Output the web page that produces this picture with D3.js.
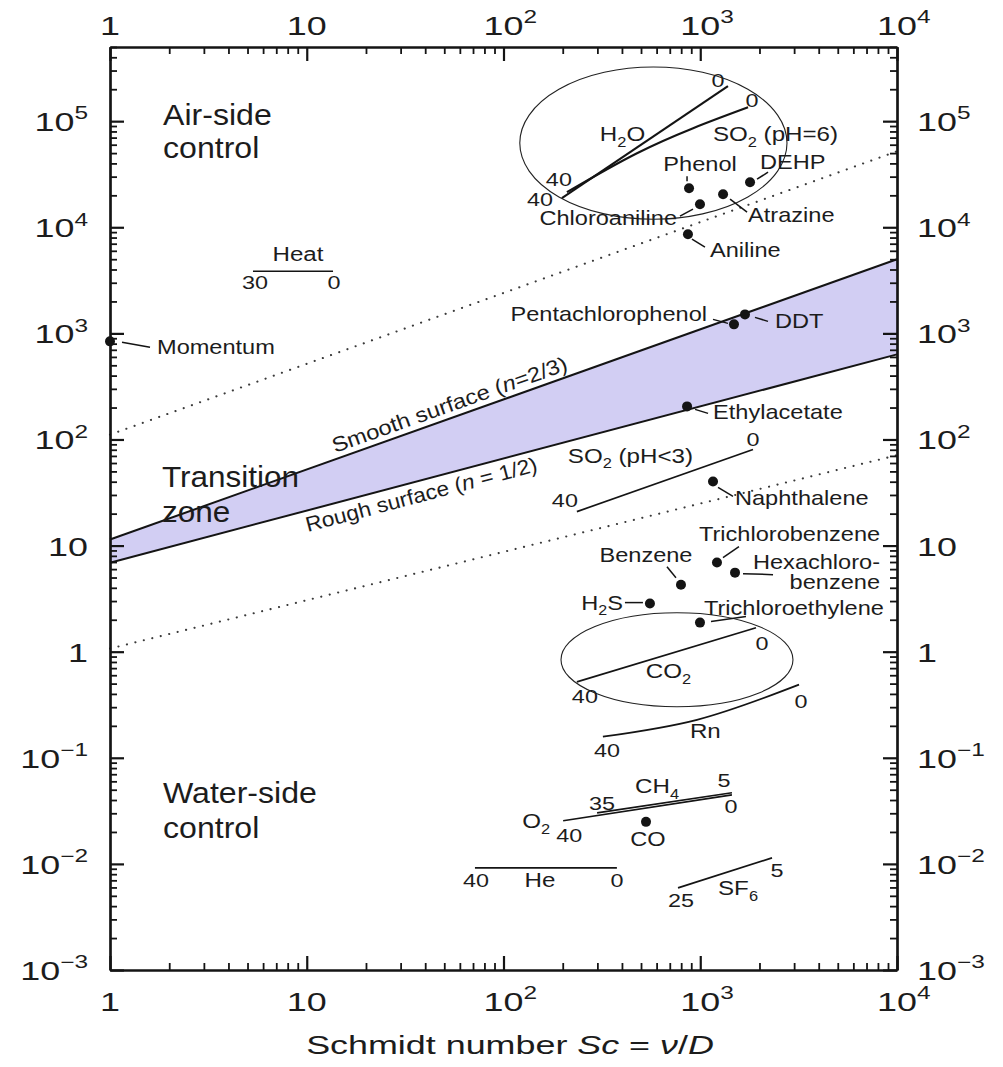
<!DOCTYPE html>
<html>
<head>
<meta charset="utf-8">
<script src="https://cdn.jsdelivr.net/npm/d3@7"></script>
<style>
  body { margin: 0; background: #fff; }
  text { font-family: "Liberation Sans", Arial, Helvetica, sans-serif; fill: #1c1c1c; }
</style>
</head>
<body>
<div id="chart"></div>
<script>
// ---- Data ----
const scDomain = [1, 1e4];
const ratioDomain = [1e-3, 5e5];
const xTickValues = [1, 10, 100, 1000, 10000];
const xTickLabels = ["1", "10", "10^2", "10^3", "10^4"];
const yTickValues = [1e-3, 1e-2, 1e-1, 1, 10, 100, 1e3, 1e4, 1e5];
const yTickLabels = ["10^\u22123", "10^\u22122", "10^\u22121", "1", "10", "10^2", "10^3", "10^4", "10^5"];

// limits of the transition zone and the dotted control limits
const smoothSc = [1, 1e4];
const smoothRatio = [11.4, 4990];
const roughSc = [1, 1e4];
const roughRatio = [6.9, 634];
const upperDotSc = [1, 1e4];
const upperDotRatio = [111, 52000];
const lowerDotSc = [1, 1e4];
const lowerDotRatio = [1.07, 71];

// single compounds (dots)
const compoundNames = ["Momentum", "Phenol", "DEHP", "Chloroaniline", "Atrazine", "Aniline",
  "Pentachlorophenol", "DDT", "Ethylacetate", "Naphthalene", "Trichlorobenzene",
  "Hexachlorobenzene", "Benzene", "H2S", "Trichloroethylene", "CO"];
const compoundSc = [1, 877, 1791, 997, 1306, 866, 1484, 1688, 857, 1161, 1216, 1502, 798, 555, 997, 530];
const compoundRatio = [841, 23300, 26600, 16500, 20500, 8600, 1216, 1510, 205, 40.2, 6.92, 5.56, 4.28, 2.84, 1.88, 0.0249];

// temperature ranges (lines), Sc and ratio from the warm end to the cold end
const curveNames = ["Heat", "H2O", "SO2 (pH=6)", "SO2 (pH<3)", "CO2", "Rn", "CH4", "O2", "He", "SF6"];
const curveSc = [[5.33, 13.6], [198, 1383], [210, 477, 1750], [236, 1854], [236, 1920],
  [320, 962, 3177], [299, 1449], [201, 1449], [71.6, 377], [771, 2316]];
const curveRatio = [[3850, 3850], [18800, 214000], [21400, 49900, 135000], [20.9, 80.5], [0.52, 1.68],
  [0.158, 0.228, 0.489], [0.0303, 0.0468], [0.0255, 0.0448], [0.00917, 0.00917], [0.00594, 0.0114]];
const curveTemps = [[30, 0], [40, 0], [40, 0], [40, 0], [40, 0], [40, 0], [35, 5], [40, 0], [40, 0], [25, 5]];

// ellipses around H2O/SO2 group and CO2
const ellipseSc = [[121, 2760], [196, 2960]];
const ellipseRatio = [[11900, 324000], [0.303, 2.33]];

// ---- Layout ----
const width = 1003, height = 1067;
const plotLeft = 110, plotRight = 897, plotTop = 47, plotBottom = 970;
const ink = "#141414";

const svg = d3.select("#chart").append("svg")
  .attr("width", width)
  .attr("height", height);

const x = d3.scaleLog().domain(scDomain).range([plotLeft, plotRight]);
const y = d3.scaleLog().domain(ratioDomain).range([plotBottom, plotTop]);

// text helper: parts are strings or [string, "sub"|"sup"|"it"]
const addText = (parent, px, py, parts, o) => {
  let tr = `translate(${px},${py})`;
  if (o.rotate) tr += ` rotate(${o.rotate})`;
  if (o.shift) tr += ` translate(0,${o.shift})`;
  tr += ` scale(${o.sx || 1},1)`;
  const t = parent.append("text")
    .attr("transform", tr)
    .attr("font-size", o.size)
    .attr("text-anchor", o.anchor || "start");
  let cur = 0;
  parts.forEach(p => {
    const [str, kind] = typeof p === "string" ? [p, ""] : p;
    const s = t.append("tspan").text(str);
    const want = kind === "sub" ? o.size * 0.28 : kind === "sup" ? -o.size * 0.45 : 0;
    if (want !== cur) { s.attr("dy", want - cur); cur = want; }
    if (kind === "sub" || kind === "sup") s.attr("font-size", o.size * 0.68);
    if (kind === "it") s.attr("font-style", "italic");
  });
  return t;
};

const tickParts = (lab) => {
  const [base, exp] = lab.split("^");
  return exp ? [base, [exp, "sup"]] : [base];
};

// Band between smooth and rough surface
const idx = [0, 1];
svg.append("path")
  .attr("d", d3.area()
    .x(i => x(smoothSc[i]))
    .y0(i => y(roughRatio[i]))
    .y1(i => y(smoothRatio[i]))(idx))
  .attr("fill", "#d2cef3");

const pairLine = (scs, rs) => d3.line()
  .x(i => x(scs[i]))
  .y(i => y(rs[i]))(d3.range(scs.length));

svg.append("path").attr("d", pairLine(smoothSc, smoothRatio))
  .attr("fill", "none").attr("stroke", ink).attr("stroke-width", 2);
svg.append("path").attr("d", pairLine(roughSc, roughRatio))
  .attr("fill", "none").attr("stroke", ink).attr("stroke-width", 2);

[[upperDotSc, upperDotRatio], [lowerDotSc, lowerDotRatio]].forEach(([s, r]) => {
  svg.append("path").attr("d", pairLine(s, r))
    .attr("fill", "none")
    .attr("stroke", "#3a3a3a")
    .attr("stroke-width", 2.1)
    .attr("stroke-linecap", "round")
    .attr("stroke-dasharray", "0.1 8.6");
});

// labels along the band lines
const alongLine = (scs, rs, sc) => {
  const f = (Math.log10(sc) - Math.log10(scs[0])) / (Math.log10(scs[1]) - Math.log10(scs[0]));
  const lr = Math.log10(rs[0]) + f * (Math.log10(rs[1]) - Math.log10(rs[0]));
  const ang = Math.atan2(y(rs[1]) - y(rs[0]), x(scs[1]) - x(scs[0])) * 180 / Math.PI;
  return [x(sc), y(Math.pow(10, lr)), ang];
};
{
  const [sx0, sy0, sa] = alongLine(smoothSc, smoothRatio, 56);
  addText(svg, sx0, sy0, ["Smooth surface (", ["n", "it"], "=2/3)"],
    { size: 21, sx: 1.13, rotate: sa, shift: -6, anchor: "middle" });
  const [rx0, ry0, ra] = alongLine(roughSc, roughRatio, 36.7);
  addText(svg, rx0, ry0, ["Rough surface (", ["n", "it"], " = 1/2)"],
    { size: 21, sx: 1.08, rotate: ra, shift: 21, anchor: "middle" });
}

// ellipses
ellipseSc.forEach((s, i) => {
  const r = ellipseRatio[i];
  svg.append("ellipse")
    .attr("cx", (x(s[0]) + x(s[1])) / 2)
    .attr("cy", (y(r[0]) + y(r[1])) / 2)
    .attr("rx", (x(s[1]) - x(s[0])) / 2)
    .attr("ry", (y(r[0]) - y(r[1])) / 2)
    .attr("fill", "none")
    .attr("stroke", "#222")
    .attr("stroke-width", 1.1);
});

// temperature range lines
const curveLayout = {
  "Heat":       { name: [["Heat"]], nx: 45, ny: -10, na: "middle", t0: [2, 18], t1: [1, 18] },
  "H2O":        { name: ["H", ["2", "sub"], "O"], nx: 38, ny: -57, na: "start", t0: [-3, -12], t1: [-10, 1] },
  "SO2 (pH=6)": { name: ["SO", ["2", "sub"], " (pH=6)"], nx: 146, ny: -51, na: "start", t0: [-27, 14], t1: [4, 0] },
  "SO2 (pH<3)": { name: ["SO", ["2", "sub"], " (pH<3)"], nx: -9, ny: -49, na: "start", t0: [-12, -5], t1: [0, -3] },
  "CO2":        { name: ["CO", ["2", "sub"]], nx: 69, ny: -4, na: "start", t0: [8, 21], t1: [6, 22] },
  "Rn":         { name: ["Rn"], nx: 87, ny: 1, na: "start", t0: [4, 20], t1: [2, 23] },
  "CH4":        { name: ["CH", ["4", "sub"]], nx: 38, ny: -20, na: "start", t0: [5, -3], t1: [-8, -6] },
  "O2":         { name: ["O", ["2", "sub"]], nx: -41, ny: 7, na: "start", t0: [6, 21], t1: [-1, 18] },
  "He":         { name: ["He"], nx: 65, ny: 19, na: "middle", t0: [1, 19], t1: [0, 19] },
  "SF6":        { name: ["SF", ["6", "sub"]], nx: 40, ny: 7, na: "start", t0: [3, 19], t1: [5, 19] }
};

curveNames.forEach((nm, i) => {
  const s = curveSc[i], r = curveRatio[i];
  const g = svg.append("g");
  g.append("path")
    .attr("d", d3.line().curve(d3.curveMonotoneX)
      .x(j => x(s[j])).y(j => y(r[j]))(d3.range(s.length)))
    .attr("fill", "none")
    .attr("stroke", ink)
    .attr("stroke-width", i === 1 || i === 2 ? 2.1 : 1.7);
  const L = curveLayout[nm];
  const x0 = x(s[0]), y0 = y(r[0]);
  const x1 = x(s[s.length - 1]), y1 = y(r[r.length - 1]);
  addText(g, x0 + L.nx, y0 + L.ny, L.name, { size: 21, sx: 1.15, anchor: L.na });
  addText(g, x0 + L.t0[0], y0 + L.t0[1], [String(curveTemps[i][0])], { size: 18, sx: 1.3, anchor: "middle" });
  addText(g, x1 + L.t1[0], y1 + L.t1[1], [String(curveTemps[i][1])], { size: 18, sx: 1.3, anchor: "middle" });
});

// compound dots with leaders and labels
const compoundLayout = {
  "Momentum":          { lab: [["Momentum"]], dx: 47, dy: 13, a: "start", lead: [12, 1, 40, 6] },
  "Phenol":            { lab: [["Phenol"]], dx: 11, dy: -17, a: "middle", lead: [-2, -12, -2, -7] },
  "DEHP":              { lab: [["DEHP"]], dx: 10, dy: -13, a: "start", lead: [7, -3, 18, -10] },
  "Chloroaniline":     { lab: [["Chloroaniline"]], dx: -23, dy: 21, a: "end", lead: [-20, 12, -7, 5] },
  "Atrazine":          { lab: [["Atrazine"]], dx: 25, dy: 28, a: "start", lead: [7, 5, 24, 18] },
  "Aniline":           { lab: [["Aniline"]], dx: 22, dy: 23, a: "start", lead: [4, 5, 17, 13] },
  "Pentachlorophenol": { lab: [["Pentachlorophenol"]], dx: -27, dy: -3, a: "end", lead: [-21, -5, -6, -1] },
  "DDT":               { lab: [["DDT"]], dx: 30, dy: 14, a: "start", lead: [10, 3, 23, 7] },
  "Ethylacetate":      { lab: [["Ethylacetate"]], dx: 26, dy: 13, a: "start", lead: [8, 3, 21, 7] },
  "Naphthalene":       { lab: [["Naphthalene"]], dx: 22, dy: 24, a: "start", lead: [5, 6, 20, 15] },
  "Trichlorobenzene":  { lab: [["Trichlorobenzene"]], dx: -18, dy: -22, a: "start", lead: [6, -5, 22, -16] },
  "Hexachlorobenzene": { lab: [["Hexachloro-"], ["benzene"]], dx: 145, dy: -4, a: "end", lead: [8, 1, 38, 2] },
  "Benzene":           { lab: [["Benzene"]], dx: -35, dy: -23, a: "middle", lead: [-14, -18, -5, -7] },
  "H2S":               { lab: [["H", ["2", "sub"], "S"]], dx: -27, dy: 6, a: "end", lead: [-25, -1, -7, -1] },
  "Trichloroethylene": { lab: [["Trichloroethylene"]], dx: 4, dy: -8, a: "start", lead: [11, -1, 46, -6] },
  "CO":                { lab: [["CO"]], dx: 2, dy: 24, a: "middle", lead: null }
};

compoundNames.forEach((nm, i) => {
  const cx = x(compoundSc[i]), cy = y(compoundRatio[i]);
  const L = compoundLayout[nm];
  svg.append("circle").attr("cx", cx).attr("cy", cy).attr("r", 5).attr("fill", ink);
  if (L.lead) {
    svg.append("line")
      .attr("x1", cx + L.lead[0]).attr("y1", cy + L.lead[1])
      .attr("x2", cx + L.lead[2]).attr("y2", cy + L.lead[3])
      .attr("stroke", ink).attr("stroke-width", 1.5);
  }
  L.lab.forEach((line, k) => {
    addText(svg, cx + L.dx, cy + L.dy + k * 20, line, { size: 20.5, sx: 1.15, anchor: L.a });
  });
});

// region labels
addText(svg, 163, 125, ["Air-side"], { size: 30, sx: 1.07 });
addText(svg, 163, 158, ["control"], { size: 30, sx: 1.07 });
addText(svg, 162, 487, ["Transition"], { size: 30, sx: 1.05 });
addText(svg, 162, 522, ["zone"], { size: 30, sx: 1.05 });
addText(svg, 163, 803, ["Water-side"], { size: 30, sx: 1.07 });
addText(svg, 163, 838, ["control"], { size: 30, sx: 1.07 });

// ---- Axes ----
const minorX = x.ticks().filter(v => !xTickValues.includes(v));
const minorY = y.ticks().filter(v => !yTickValues.some(t => Math.abs(t - v) / t < 1e-6));

const styleAxis = (g, w) => {
  g.selectAll("path").attr("stroke", ink).attr("stroke-width", 2.2);
  g.selectAll("line").attr("stroke", ink).attr("stroke-width", w);
};

const axes = [
  [d3.axisBottom(x), `translate(0,${plotBottom})`, xTickValues, minorX],
  [d3.axisTop(x), `translate(0,${plotTop})`, xTickValues, minorX],
  [d3.axisLeft(y), `translate(${plotLeft},0)`, yTickValues, minorY],
  [d3.axisRight(y), `translate(${plotRight},0)`, yTickValues, minorY]
];
axes.forEach(([ax, tr, major, minor]) => {
  svg.append("g").attr("transform", tr)
    .call(ax.tickValues(minor).tickSize(-7).tickSizeOuter(0).tickFormat(""))
    .call(g => styleAxis(g, 1.8));
  svg.append("g").attr("transform", tr)
    .call(ax.tickValues(major).tickSize(-14).tickSizeOuter(0).tickFormat(""))
    .call(g => styleAxis(g, 2.2));
});

// tick labels
const tickSize = 26, tickSx = 1.38;
xTickValues.forEach((v, i) => {
  [plotTop - 12, plotBottom + 41].forEach(by => {
    const t = addText(svg, x(v), by, tickParts(xTickLabels[i]), { size: tickSize, sx: tickSx, anchor: "start" });
    const baseW = t.select("tspan").node().getComputedTextLength();
    t.attr("x", -baseW / 2);
  });
});
yTickValues.forEach((v, i) => {
  addText(svg, 88, y(v) + 10, tickParts(yTickLabels[i]), { size: tickSize, sx: tickSx, anchor: "end" });
  addText(svg, 917, y(v) + 10, tickParts(yTickLabels[i]), { size: tickSize, sx: tickSx, anchor: "start" });
});

// axis title
addText(svg, 510, 1054, ["Schmidt number ", ["Sc", "it"], " = ", ["\u03bd", "it"], "/", ["D", "it"]],
  { size: 26, sx: 1.38, anchor: "middle" });
</script>
</body>
</html>
